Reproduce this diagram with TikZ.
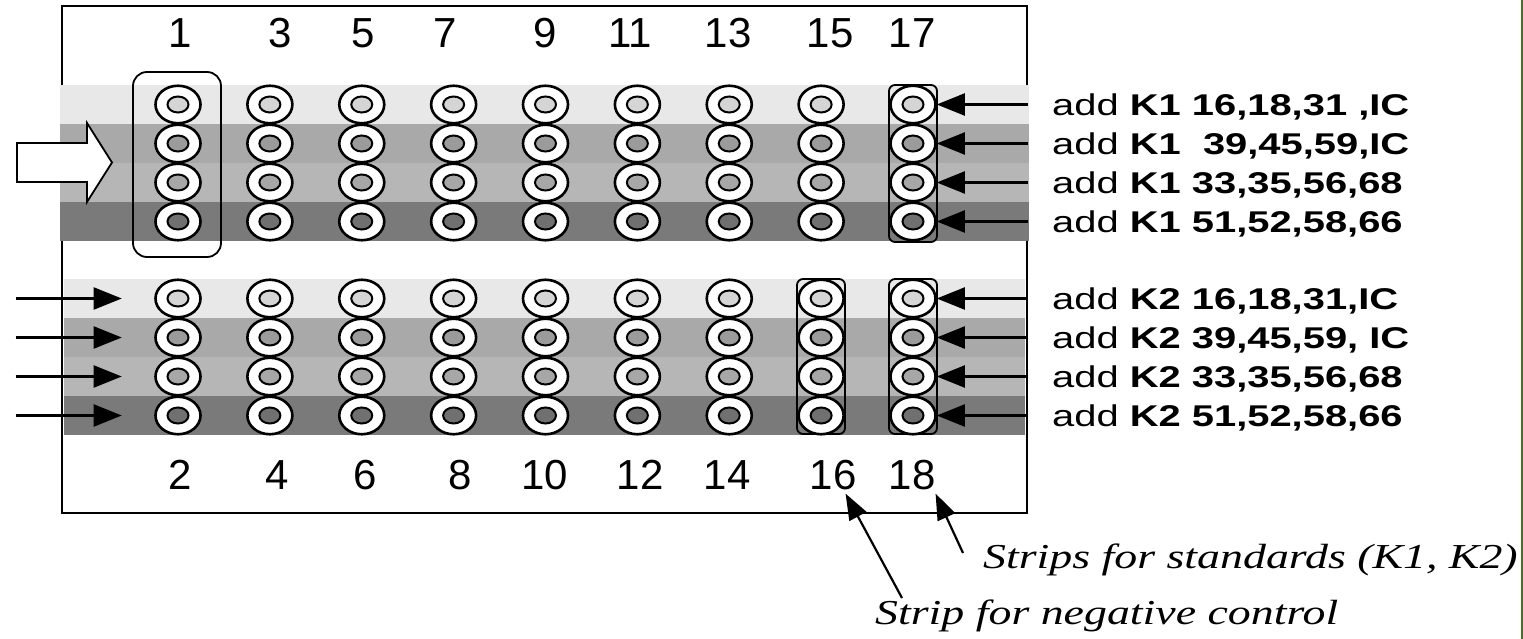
\documentclass[tikz,border=0pt]{standalone}
\usepackage{fontspec}
\setmainfont{Liberation Sans}
\newfontfamily\addfont[FakeStretch=1.33]{Liberation Sans}
\newfontfamily\notefont[FakeStretch=1.31]{Liberation Serif}
\usetikzlibrary{arrows.meta,shapes.geometric}
\definecolor{BandA}{HTML}{E8E8E8}
\definecolor{BandB}{HTML}{A9A9A9}
\definecolor{BandC}{HTML}{B6B6B6}
\definecolor{BandD}{HTML}{7A7A7A}
\definecolor{EdgeGreen}{HTML}{4B6B2B}
\tikzset{
  well/.style={ellipse,draw,line width=2.6pt,fill=white,minimum width=45pt,minimum height=37.5pt,inner sep=0pt},
  hole/.style={ellipse,draw,line width=2pt,minimum width=21pt,minimum height=16pt,inner sep=0pt},
  strip/.style={draw,line width=1.8pt,rounded corners=6pt},
  colnum/.style={anchor=base,font=\fontsize{42}{44}\selectfont,inner sep=0pt},
  addlbl/.style={anchor=base west,font=\addfont\fontsize{30}{32}\selectfont,inner sep=0pt},
  note/.style={anchor=base west,font=\notefont\itshape\fontsize{35}{37}\selectfont,inner sep=0pt},
  feed/.style={line width=2.2pt,-{Triangle[length=28pt,width=22pt]}},
  pointer/.style={line width=2.2pt,-{Triangle[length=26pt,width=19pt]}},
}

\begin{document}
\begin{tikzpicture}[x=1pt,y=-1pt]
  \useasboundingbox (0,0) rectangle (1523,639);
  % plate outline
  \node[draw,line width=2.8pt,minimum width=965pt,minimum height=507pt,inner sep=0pt] (plate) at (544.5,259.5) {};
  % reagent bands, top and bottom half
  \foreach \r/\shade in {1/BandA,2/BandB,3/BandC,4/BandD}{
    \pgfmathsetmacro{\ytop}{104.5+39*(\r-1)}
    \pgfmathsetmacro{\ybot}{298.5+39*(\r-1)}
    \fill[\shade] (60,\ytop-19.5) rectangle (1029,\ytop+19.5);
    \fill[\shade] (64,\ybot-19.5) rectangle (1025,\ybot+19.5);
  }
  % hollow arrow
  \draw[line width=1.8pt,fill=white] (17,143) -- (87,143) -- (87,123) -- (112,162.5)
    -- (87,202) -- (87,182) -- (17,182) -- cycle;
  % strips
  \draw[strip,rounded corners=14pt] (133,72) rectangle (221,257);
  \draw[strip] (889,85) rectangle (937,242);
  \draw[strip] (797,279) rectangle (845,434);
  \draw[strip] (889,279) rectangle (937,434);
  % wells
  \foreach \c in {1,...,9}{
    \pgfmathsetmacro{\xc}{178+91.875*(\c-1)}
    \foreach \r/\shade in {1/BandA,2/BandB,3/BandC,4/BandD}{
      \pgfmathsetmacro{\ytop}{104.5+39*(\r-1)}
      \pgfmathsetmacro{\ybot}{298.5+39*(\r-1)}
      \node[well] (t-\r-\c) at (\xc,\ytop) {};
      \node[hole,fill=\shade!92!black] at (t-\r-\c) {};
      \node[well] (b-\r-\c) at (\xc,\ybot) {};
      \node[hole,fill=\shade!92!black] at (b-\r-\c) {};
    }
  }
  % strip numbers
  \foreach \n/\xc in {1/180,3/280,5/363,7/445,9/545,11/630,13/728,15/830,17/912}
    \node[colnum] (n\n) at (\xc,48) {\n};
  \foreach \n/\xc in {2/180,4/277,6/365,8/460,10/545,12/640,14/727,16/833,18/912}
    \node[colnum] (n\n) at (\xc,489) {\n};
  % additions
  \foreach \r/\txt in {1/{K1 16,18,31 ,IC},2/{K1\ \ 39,45,59,IC},3/{K1 33,35,56,68},4/{K1 51,52,58,66}}
    \node[addlbl] (k1-\r) at (1052,{115.5+39*(\r-1)}) {add \textbf{\txt}};
  \foreach \r/\txt in {1/{K2 16,18,31,IC},2/{K2 39,45,59, IC},3/{K2 33,35,56,68},4/{K2 51,52,58,66}}
    \node[addlbl] (k2-\r) at (1052,{309.5+39*(\r-1)}) {add \textbf{\txt}};
  \foreach \r in {1,...,4}{
    \draw[feed] (t-\r-9.east -| plate.east) -- (t-\r-9.east);
    \draw[feed] (b-\r-9.east -| plate.east) -- (b-\r-9.east);
    \draw[feed] ([xshift=-138.5pt]b-\r-1.west) -- ([xshift=-32.5pt]b-\r-1.west);
  }
  % notes
  \node[note] (stdnote) at (983,568) {Strips for standards (K1, K2)};
  \node[note] (negnote) at (875,624) {Strip for negative control};
  \coordinate (stdtail) at (963,553);
  \coordinate (negtail) at (902,598);
  \draw[pointer] (stdtail) -- ([yshift=-4pt]n18.south east);
  \draw[pointer] (negtail) -- ([xshift=-11pt,yshift=-4pt]n16.south east);
  % page edge
  \draw[EdgeGreen,line width=2pt] (1522,0) -- (1522,639);
\end{tikzpicture}
\end{document}
